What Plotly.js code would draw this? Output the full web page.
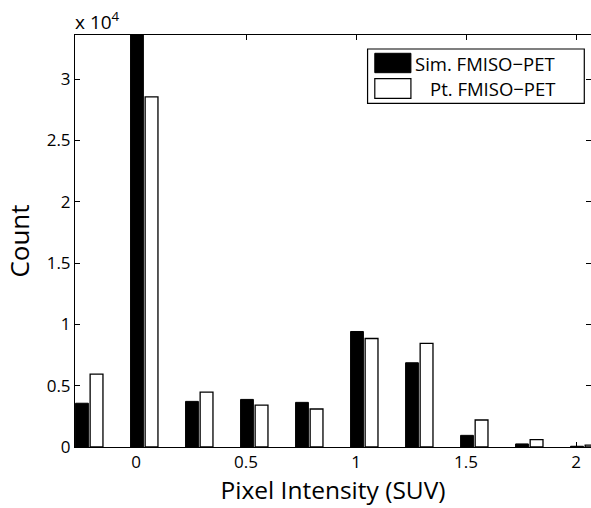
<!DOCTYPE html>
<html>
<head>
<meta charset="utf-8">
<script src="https://cdn.plot.ly/plotly-3.0.1.min.js"></script>
<style>
html,body{margin:0;padding:0;overflow:hidden;background:#fff;}
#chart{width:595px;height:508px;}
</style>
</head>
<body>
<div id="chart"></div>
<script>
// Bin centres (SUV) and counts
var binCenters = [-0.2125, 0.0375, 0.2875, 0.5375, 0.7875, 1.0375, 1.2875, 1.5375, 1.7875, 2.0375];
var simCounts  = [3570, 34500, 3720, 3880, 3640, 9420, 6870, 950, 250, 60];
var ptCounts   = [5950, 28550, 4480, 3420, 3100, 8850, 8450, 2200, 600, 150];
var seriesNames = ['Sim. FMISO\u2212PET', 'Pt. FMISO\u2212PET'];

var xTickVals = [0, 0.5, 1, 1.5, 2];
var xTickText = ['0', '0.5', '1', '1.5', '2'];
var yTickVals = [0, 5000, 10000, 15000, 20000, 25000, 30000];
var yTickText = ['0', '0.5', '1', '1.5', '2', '2.5', '3'];

var FONT = 'Open Sans, Noto Sans, sans-serif';

var traces = [
  {type: 'bar', x: binCenters, y: simCounts, name: seriesNames[0],
   marker: {color: '#000000', line: {color: '#000000', width: 1}}, showlegend: false, hoverinfo: 'x+y'},
  {type: 'bar', x: binCenters, y: ptCounts, name: seriesNames[1],
   marker: {color: '#ffffff', line: {color: '#000000', width: 1.3}}, showlegend: false, hoverinfo: 'x+y'}
];

var layout = {
  width: 595, height: 508,
  margin: {l: 75, r: 4, t: 35, b: 61, pad: 0},
  paper_bgcolor: '#ffffff', plot_bgcolor: '#ffffff',
  font: {family: FONT, size: 17, color: '#000000'},
  barmode: 'group', bargap: 0.47, bargroupgap: 0.12,
  showlegend: false,
  xaxis: {
    range: [-0.2773, 2.068], tickvals: xTickVals, ticktext: xTickText,
    ticks: 'inside', ticklen: 5, tickcolor: '#000', tickwidth: 1,
    showline: true, linecolor: '#000', linewidth: 1, mirror: 'ticks',
    showgrid: false, zeroline: false,
    tickfont: {family: FONT, size: 17, color: '#000'},
    title: {text: 'Pixel Intensity (SUV)', font: {family: FONT, size: 24.5, color: '#000'}, standoff: 6}
  },
  yaxis: {
    range: [0, 33600], tickvals: yTickVals, ticktext: yTickText,
    ticks: 'inside', ticklen: 5, tickcolor: '#000', tickwidth: 1,
    showline: true, linecolor: '#000', linewidth: 1, mirror: 'ticks',
    showgrid: false, zeroline: false,
    tickfont: {family: FONT, size: 17, color: '#000'},
    title: {text: 'Count', font: {family: FONT, size: 26, color: '#000'}, standoff: 9}
  },
  shapes: [
    {type: 'rect', xref: 'paper', yref: 'paper', x0: 0.567, x1: 0.987, y0: 0.834, y1: 0.966,
     line: {color: '#000', width: 1.2}, fillcolor: '#ffffff'},
    {type: 'rect', xref: 'paper', yref: 'paper', x0: 0.581, x1: 0.651, y0: 0.9085, y1: 0.9556,
     line: {color: '#000', width: 1}, fillcolor: '#000000'},
    {type: 'rect', xref: 'paper', yref: 'paper', x0: 0.581, x1: 0.651, y0: 0.8464, y1: 0.894,
     line: {color: '#000', width: 1.2}, fillcolor: '#ffffff'}
  ],
  annotations: [
    {xref: 'paper', yref: 'paper', x: 0.9335, y: 0.932, xanchor: 'right', yanchor: 'middle',
     text: seriesNames[0], showarrow: false, font: {family: FONT, size: 18.5, color: '#000'}},
    {xref: 'paper', yref: 'paper', x: 0.9335, y: 0.869, xanchor: 'right', yanchor: 'middle',
     text: seriesNames[1], showarrow: false, font: {family: FONT, size: 18.5, color: '#000'}},
    {xref: 'paper', yref: 'paper', x: -0.004, y: 0.996, xanchor: 'left', yanchor: 'bottom',
     text: 'x 10<sup>4</sup>', showarrow: false, font: {family: FONT, size: 19, color: '#000'}}
  ]
};

Plotly.newPlot('chart', traces, layout, {displayModeBar: false, staticPlot: true});
</script>
</body>
</html>
